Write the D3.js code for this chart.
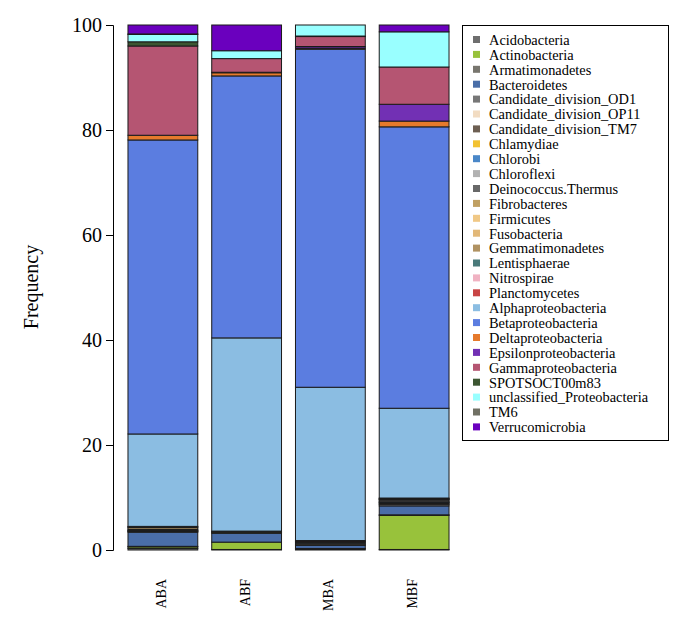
<!DOCTYPE html>
<html><head><meta charset="utf-8">
<script src="https://cdn.jsdelivr.net/npm/d3@7"></script>
<style>body{margin:0;background:#fff}svg{display:block}</style>
</head><body>
<svg id="chart" width="700" height="633"></svg>
<script>
const samples = ["ABA", "ABF", "MBA", "MBF"];
const taxa = ["Acidobacteria","Actinobacteria","Armatimonadetes","Bacteroidetes","Candidate_division_OD1","Candidate_division_OP11","Candidate_division_TM7","Chlamydiae","Chlorobi","Chloroflexi","Deinococcus.Thermus","Fibrobacteres","Firmicutes","Fusobacteria","Gemmatimonadetes","Lentisphaerae","Nitrospirae","Planctomycetes","Alphaproteobacteria","Betaproteobacteria","Deltaproteobacteria","Epsilonproteobacteria","Gammaproteobacteria","SPOTSOCT00m83","unclassified_Proteobacteria","TM6","Verrucomicrobia"];
const taxaColors = ["#6e6e6e","#98c23b","#78766e","#4a6ea8","#777777","#f2dcc2","#6d5f52","#f2c232","#4a87c8","#b2b2b2","#686868","#c0a062","#f0c886","#e2b878","#b09262","#4a7a7a","#f0b2c2","#c84444","#8bbde2","#5b7de0","#e67a2c","#7230b4","#b55572","#3c5632","#99ffff","#707064","#6a00be"];
const ABA = [0.3,0.3,0.1,2.7,0.1,0.1,0.1,0,0.1,0.2,0,0,0.3,0.1,0,0,0,0.1,17.6,56.0,0.9,0,17.0,0.8,1.4,0.1,1.7];
const ABF = [0.1,1.4,0,1.7,0.1,0,0,0,0,0.1,0,0,0.1,0,0,0,0,0.1,36.8,49.9,0.6,0.1,2.6,0,1.5,0,4.9];
const MBA = [0.2,0.1,0,0.6,0.1,0,0.3,0,0.1,0.2,0,0,0,0,0.1,0,0,0.1,29.2,64.4,0.2,0.3,1.9,0.1,2.1,0,0];
const MBF = [0.1,6.5,0.1,1.7,0.3,0.1,0.2,0.1,0.1,0.3,0.1,0,0.1,0,0.1,0,0,0.1,17.1,53.6,1.1,3.2,7.1,0,6.7,0,1.3];
const yTicks = [0, 20, 40, 60, 80, 100];

const valuesBySample = {ABA, ABF, MBA, MBF};
const rows = samples.map(s => {
  const r = {sample: s};
  taxa.forEach((t, i) => r[t] = valuesBySample[s][i]);
  return r;
});

const svg = d3.select("#chart");
const font = "'Liberation Serif','Times New Roman',serif";

const y = d3.scaleLinear().domain([0, 100]).range([550, 25]);
const x = d3.scaleBand().domain(samples).range([121, 456]).paddingInner(1/6).paddingOuter(1/12);
const color = d3.scaleOrdinal().domain(taxa).range(taxaColors);

const stack = d3.stack().keys(taxa)(rows);

const g = svg.append("g");
stack.forEach(layer => {
  g.selectAll(null).data(layer.filter(d => d[1] - d[0] > 0)).join("rect")
    .attr("x", d => x(d.data.sample))
    .attr("width", x.bandwidth())
    .attr("y", d => y(d[1]))
    .attr("height", d => y(d[0]) - y(d[1]))
    .attr("fill", color(layer.key))
    .attr("stroke", "#1a1a1a")
    .attr("stroke-width", 1);
});

// y axis
const yAxis = svg.append("g").attr("transform", "translate(113,0)")
  .call(d3.axisLeft(y).tickValues(yTicks).tickSize(7).tickPadding(4));
yAxis.select(".domain").attr("stroke", "#000");
yAxis.selectAll("text").attr("font-family", font).attr("font-size", 20).attr("fill", "#000");

svg.append("text")
  .attr("transform", "translate(38,287) rotate(-90)")
  .attr("text-anchor", "middle")
  .attr("font-family", font).attr("font-size", 20)
  .text("Frequency");

// x labels (vertical)
svg.selectAll(".xl").data(samples).join("text")
  .attr("transform", d => `translate(${x(d) + x.bandwidth()/2 + 3},579) rotate(-90)`)
  .attr("text-anchor", "end")
  .attr("font-family", font).attr("font-size", 14)
  .text(d => d);

// legend
const lg = svg.append("g");
lg.append("rect").attr("x", 462.5).attr("y", 25.5).attr("width", 206).attr("height", 415)
  .attr("fill", "#fff").attr("stroke", "#000").attr("stroke-width", 1);
const item = lg.selectAll(".li").data(taxa).join("g")
  .attr("transform", (d, i) => `translate(0,${40 + i * 14.9})`);
item.append("rect").attr("x", 473).attr("y", -4).attr("width", 7).attr("height", 7)
  .attr("fill", d => color(d));
item.append("text").attr("x", 489).attr("y", 4.8)
  .attr("font-family", font).attr("font-size", 14.4)
  .text(d => d);
</script>
</body></html>
